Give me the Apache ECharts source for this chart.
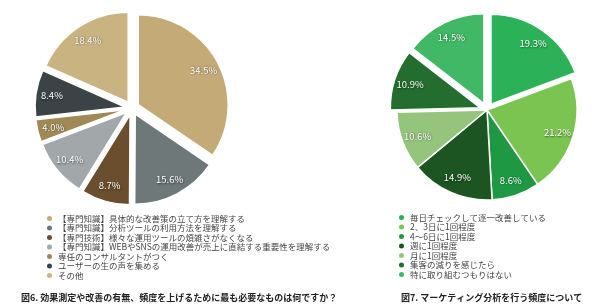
<!DOCTYPE html>
<html>
<head>
<meta charset="utf-8">
<script src="https://cdn.jsdelivr.net/npm/echarts@6/dist/echarts.min.js"></script>
<style>
  html, body { margin: 0; padding: 0; background: #fff; }
  #chart { width: 600px; height: 306px; }
</style>
</head>
<body>
<div id="chart"></div>
<script>
// 図6
const needNames = [
  '【専門知識】具体的な改善策の立て方を理解する',
  '【専門知識】分析ツールの利用方法を理解する',
  '【専門技術】様々な運用ツールの煩雑さがなくなる',
  '【専門知識】WEBやSNSの運用改善が売上に直結する重要性を理解する',
  '専任のコンサルタントがつく',
  'ユーザーの生の声を集める',
  'その他'
];
const needValues = [34.5, 15.6, 8.7, 10.4, 4.0, 8.4, 18.4];
const needColors = ['#c3aa77', '#6e7878', '#6a4e2d', '#a2a7a9', '#a08954', '#3b4347', '#c9b380'];

// 図7
const freqNames = [
  '毎日チェックして逐一改善している',
  '2、3日に1回程度',
  '4〜6日に1回程度',
  '週に1回程度',
  '月に1回程度',
  '集客の減りを感じたら',
  '特に取り組むつもりはない'
];
const freqValues = [19.3, 21.2, 8.6, 14.9, 10.6, 10.9, 14.5];
const freqColors = ['#2bb259', '#7cc451', '#1e9843', '#1c5522', '#95c47d', '#236d2e', '#40b865'];
const freqSelected = [true, false, false, false, false, true, true];

const font = '"Noto Sans CJK JP", sans-serif';

const chart = echarts.init(document.getElementById('chart'));

const labelStyle = {
  show: true,
  position: 'inside',
  formatter: p => p.value.toFixed(1) + '%',
  color: '#fff',
  fontSize: 9.5,
  fontFamily: font,
  textShadowColor: 'rgba(0,0,0,0.6)',
  textShadowBlur: 2,
  textShadowOffsetX: 0.5,
  textShadowOffsetY: 0.5
};

const legendBase = {
  orient: 'vertical',
  icon: 'circle',
  itemWidth: 7,
  itemHeight: 7,
  itemGap: 0.5,
  selectedMode: false,
  textStyle: { fontSize: 8.5, lineHeight: 7, color: '#444', fontFamily: font }
};

// one pie for the slices, one transparent ring on top to place labels further out
function pieSeries(center, names, values, colors, selected, offset, gap) {
  const data = names.map((n, i) => ({
    name: n, value: values[i], selected: selected[i],
    itemStyle: { color: colors[i] }
  }));
  const common = {
    type: 'pie',
    center: center,
    startAngle: 90,
    clockwise: true,
    selectedMode: 'multiple',
    selectedOffset: offset,
    labelLine: { show: false },
    emphasis: { disabled: true },
    silent: true
  };
  return [
    Object.assign({}, common, {
      radius: [0, 90],
      label: { show: false },
      itemStyle: { borderColor: '#fff', borderWidth: gap },
      data: data
    }),
    Object.assign({}, common, {
      radius: [52, 90],
      label: labelStyle,
      itemStyle: { color: 'transparent', borderWidth: 0 },
      data: data.map(d => ({ name: d.name, value: d.value, selected: d.selected, itemStyle: { color: 'transparent' } }))
    })
  ];
}

chart.setOption({
  animation: false,
  title: [
    {
      text: '図6. 効果測定や改善の有無、頻度を上げるために最も必要なものは何ですか？',
      left: 16, top: 288,
      textStyle: { fontSize: 9, fontWeight: 'bold', color: '#222', fontFamily: font }
    },
    {
      text: '図7. マーケティング分析を行う頻度について',
      left: 396, top: 288,
      textStyle: { fontSize: 9, fontWeight: 'bold', color: '#222', fontFamily: font }
    }
  ],
  legend: [
    Object.assign({}, legendBase, { left: 40, top: 209, data: needNames }),
    Object.assign({}, legendBase, { left: 392, top: 208, data: freqNames })
  ],
  series: [
    ...pieSeries([132, 108], needNames, needValues, needColors, needNames.map(() => true), 7, 1.5),
    ...pieSeries([487, 110], freqNames, freqValues, freqColors, freqSelected, 7, 1.5)
  ]
});
</script>
</body>
</html>
